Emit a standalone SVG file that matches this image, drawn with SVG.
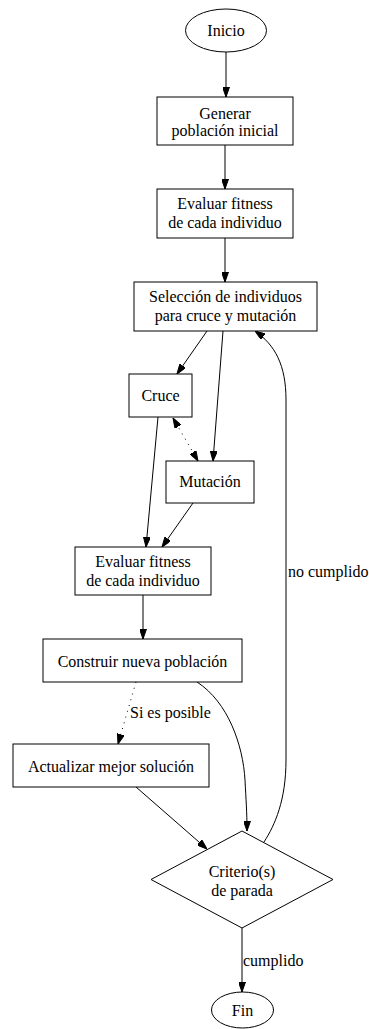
<svg xmlns="http://www.w3.org/2000/svg" width="369" height="1029" viewBox="0 0 369 1029">
<style>
.n{fill:#fff;stroke:#000;stroke-width:1}
.e{fill:none;stroke:#000;stroke-width:1}
.d{stroke-dasharray:1,5}
</style>
<defs>
<marker id="ah" markerUnits="userSpaceOnUse" markerWidth="10" markerHeight="7" refX="10" refY="3.5" orient="auto-start-reverse">
<path d="M0,0 L10,3.5 L0,7 z" fill="#000" stroke="#000" stroke-width="1"/>
</marker>
</defs>
<rect width="369" height="1029" fill="#fff"/>
<g id="connectors">
<path class="e" d="M226,52 L226,97" marker-end="url(#ah)"/>
<path class="e" d="M225,145 L225,189" marker-end="url(#ah)"/>
<path class="e" d="M225,238 L225,282" marker-end="url(#ah)"/>
<path class="e" d="M207,331 L177,374" marker-end="url(#ah)"/>
<path class="e" d="M223,331 L213,461" marker-end="url(#ah)"/>
<path class="e d" d="M173,418 L198,461" marker-start="url(#ah)" marker-end="url(#ah)"/>
<path class="e" d="M158,417 L146,547" marker-end="url(#ah)"/>
<path class="e" d="M193,503 L162,547" marker-end="url(#ah)"/>
<path class="e" d="M143,595 L143,639" marker-end="url(#ah)"/>
<path class="e d" d="M136,682 L118,744" marker-end="url(#ah)"/>
<text font-family="Liberation Serif" font-size="16" x="130" y="718">Si es posible</text>
<path class="e" d="M197,682 C228,702 243,745 245,780 C246,800 247,812 247,831" marker-end="url(#ah)"/>
<path class="e" d="M136,787 L207,849" marker-end="url(#ah)"/>
<path class="e" d="M264,842 C275,825 286,800 286,760 L286,400 C286,365 275,345 255,331" marker-end="url(#ah)"/>
<text font-family="Liberation Serif" font-size="16" x="288" y="577">no cumplido</text>
<path class="e" d="M242,928 L242,992" marker-end="url(#ah)"/>
<text font-family="Liberation Serif" font-size="16" x="243" y="966">cumplido</text>
</g>
<g id="inicio">
<ellipse class="n" cx="226" cy="30.5" rx="40.5" ry="21.5"/>
<text font-family="Liberation Serif" font-size="16" text-anchor="middle" x="226" y="36">Inicio</text>
</g>
<g id="generar">
<rect class="n" x="157" y="97" width="136" height="48"/>
<text font-family="Liberation Serif" font-size="16" text-anchor="middle" x="225" y="118.5">Generar</text>
<text font-family="Liberation Serif" font-size="16" text-anchor="middle" x="225" y="136">población inicial</text>
</g>
<g id="evaluar1">
<rect class="n" x="157" y="189" width="136" height="49"/>
<text font-family="Liberation Serif" font-size="16" text-anchor="middle" x="225" y="208.5">Evaluar fitness</text>
<text font-family="Liberation Serif" font-size="16" text-anchor="middle" x="225" y="227.5">de cada individuo</text>
</g>
<g id="seleccion">
<rect class="n" x="134" y="282" width="183" height="49"/>
<text font-family="Liberation Serif" font-size="16" text-anchor="middle" x="225.5" y="301.5">Selección de individuos</text>
<text font-family="Liberation Serif" font-size="16" text-anchor="middle" x="225.5" y="320.5">para cruce y mutación</text>
</g>
<g id="cruce">
<rect class="n" x="129" y="374" width="63" height="43"/>
<text font-family="Liberation Serif" font-size="16" text-anchor="middle" x="160.5" y="401">Cruce</text>
</g>
<g id="mutacion">
<rect class="n" x="166" y="461" width="88" height="42"/>
<text font-family="Liberation Serif" font-size="16" text-anchor="middle" x="210" y="487">Mutación</text>
</g>
<g id="evaluar2">
<rect class="n" x="75" y="547" width="136" height="48"/>
<text font-family="Liberation Serif" font-size="16" text-anchor="middle" x="143" y="567">Evaluar fitness</text>
<text font-family="Liberation Serif" font-size="16" text-anchor="middle" x="143" y="586">de cada individuo</text>
</g>
<g id="construir">
<rect class="n" x="43" y="639" width="199" height="43"/>
<text font-family="Liberation Serif" font-size="16" text-anchor="middle" x="142.5" y="666.5">Construir nueva población</text>
</g>
<g id="actualizar">
<rect class="n" x="13" y="744" width="196" height="43"/>
<text font-family="Liberation Serif" font-size="16" text-anchor="middle" x="111" y="771.5">Actualizar mejor solución</text>
</g>
<g id="criterio">
<polygon class="n" points="242,831 333,879.5 242,928 151,879.5"/>
<text font-family="Liberation Serif" font-size="16" text-anchor="middle" x="242" y="877">Criterio(s)</text>
<text font-family="Liberation Serif" font-size="16" text-anchor="middle" x="242" y="896">de parada</text>
</g>
<g id="fin">
<ellipse class="n" cx="242.5" cy="1010" rx="31" ry="18"/>
<text font-family="Liberation Serif" font-size="16" text-anchor="middle" x="242.5" y="1015.5">Fin</text>
</g>
</svg>
